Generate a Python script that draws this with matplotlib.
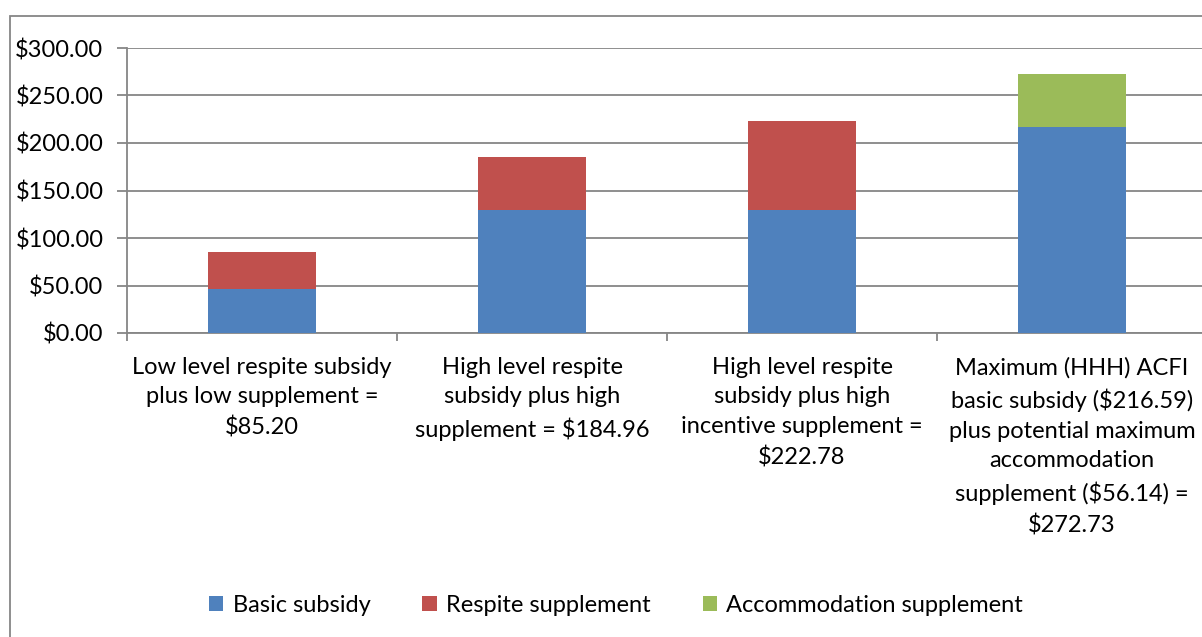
import matplotlib.pyplot as plt
from matplotlib.patches import Rectangle
from matplotlib.ticker import FuncFormatter, MultipleLocator

categories = [
    "Low level respite subsidy\nplus low supplement =\n$85.20",
    "High level respite\nsubsidy plus high\nsupplement = $184.96",
    "High level respite\nsubsidy plus high\nincentive supplement =\n$222.78",
    "Maximum (HHH) ACFI\nbasic subsidy ($216.59)\nplus potential maximum\naccommodation\nsupplement ($56.14) =\n$272.73",
]
basic = [46.0, 130.0, 130.0, 216.59]
respite = [39.2, 54.96, 92.78, 0.0]
accommodation = [0.0, 0.0, 0.0, 56.14]

plt.rcParams['font.family'] = ['Lato', 'DejaVu Sans']
FS = 17

fig = plt.figure(figsize=(12.02, 6.37), dpi=100)
W, H = 1202, 637
ax = fig.add_axes([127 / W, 1 - 333 / H, 1080 / W, 285 / H])

x = list(range(len(categories)))
ax.bar(x, basic, width=0.4, color='#4f81bd', label='Basic subsidy', zorder=3)
ax.bar(x, respite, width=0.4, bottom=basic, color='#c0504d',
       label='Respite supplement', zorder=3)
bottom2 = [b + r for b, r in zip(basic, respite)]
ax.bar(x, accommodation, width=0.4, bottom=bottom2, color='#9bbb59',
       label='Accommodation supplement', zorder=3)

ax.set_xlim(-0.5, 3.5)
ax.set_ylim(0, 300)
ax.yaxis.set_major_locator(MultipleLocator(50))
ax.yaxis.set_major_formatter(FuncFormatter(lambda v, p: f"${v:.2f}"))
ax.grid(axis='y', color='#868686', linewidth=1.3, zorder=0)

for s in ['top', 'right']:
    ax.spines[s].set_visible(False)
for s in ['left', 'bottom']:
    ax.spines[s].set_color('#868686')
    ax.spines[s].set_linewidth(1.3)

ax.set_xticks([-0.5, 0.5, 1.5, 2.5])
ax.set_xticklabels([])
ax.tick_params(axis='x', length=6, color='#868686', width=1.3)
ax.tick_params(axis='y', length=7, color='#868686', width=1.3,
               labelsize=FS, pad=10)

for i, lab in enumerate(categories):
    ax.annotate(lab, xy=(i, 0), xycoords='data', xytext=(0, -17),
                textcoords='offset points', ha='center', va='top',
                fontsize=FS, linespacing=1.52, annotation_clip=False)

fig.legend(loc='center', bbox_to_anchor=(616 / W, 1 - 605 / H), ncol=3,
           frameon=False, fontsize=FS, handlelength=0.6, handleheight=0.6,
           columnspacing=2.2, handletextpad=0.4)

fig.patches.append(Rectangle((10 / W, -0.1), 1.2, 1 - 16 / H + 0.1,
                             transform=fig.transFigure, fill=False,
                             edgecolor='#868686', linewidth=1.3))

fig.savefig('out.png', dpi=100)
